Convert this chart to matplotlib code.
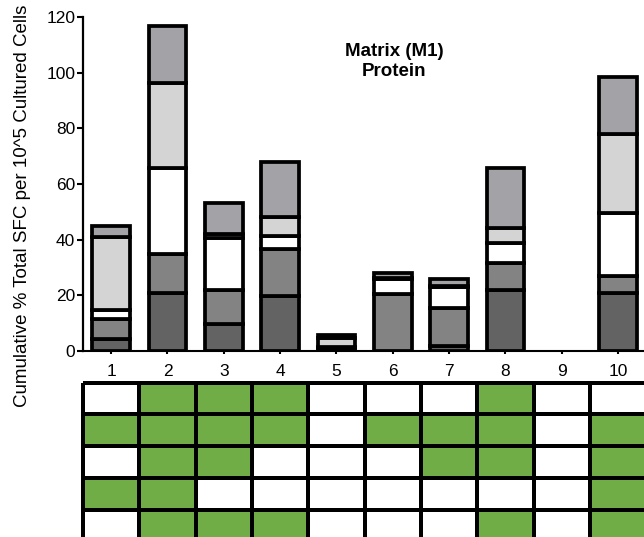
import numpy as np
import matplotlib
matplotlib.use("Agg")
import matplotlib.pyplot as plt
from matplotlib.colors import ListedColormap

plt.rcParams['font.family'] = ['Liberation Sans', 'DejaVu Sans']

# donors 1..10, stacked segments bottom -> top
donors = [1, 2, 3, 4, 5, 6, 7, 8, 9, 10]
dark = [4.2, 20.7, 9.8, 19.8, 1.0, 0.0, 1.8, 21.9, 0.0, 20.7]
mid = [7.2, 14.2, 12.2, 17.0, 0.6, 20.4, 13.5, 9.8, 0.0, 6.2]
white = [3.3, 31.0, 18.5, 4.5, 0.0, 5.5, 7.8, 7.2, 0.0, 22.8]
light = [26.1, 30.5, 1.5, 7.0, 3.0, 0.5, 0.3, 5.4, 0.0, 28.2]
top = [4.2, 20.4, 11.2, 19.5, 1.2, 1.5, 2.4, 21.6, 0.0, 20.4]
seg_colors = ['#636363', '#838383', '#ffffff', '#d4d4d4', '#a2a2a7']

# presence grid under the bars (1 = green)
grid = [
    [0, 1, 1, 1, 0, 0, 0, 1, 0, 0],
    [1, 1, 1, 1, 0, 1, 1, 1, 0, 1],
    [0, 1, 1, 0, 0, 0, 1, 1, 0, 1],
    [1, 1, 0, 0, 0, 0, 0, 0, 0, 1],
    [0, 1, 1, 1, 0, 0, 0, 1, 0, 1],
]

W, H = 644, 537
fig = plt.figure(figsize=(W / 100, H / 100), dpi=100)

# bar axes (pixel based placement)
x0, x1 = 83, 646.3
ax = fig.add_axes([x0 / W, (H - 351) / H, (x1 - x0) / W, 334 / H])
bottom = np.zeros(len(donors))
for vals, c in zip([dark, mid, white, light, top], seg_colors):
    # empty segments get no outline
    edges = ['black' if v > 0 else 'none' for v in vals]
    ax.bar(donors, vals, width=0.67, bottom=bottom, color=c,
           edgecolor=edges, linewidth=2.7, zorder=3)
    bottom += np.array(vals)

ax.set_xlim(0.5, 10.5)
ax.set_ylim(0, 120)
ax.set_yticks([0, 20, 40, 60, 80, 100, 120])
ax.set_xticks(donors)
for s in ['top', 'right']:
    ax.spines[s].set_visible(False)
ax.spines['left'].set_linewidth(1.6)
ax.spines['bottom'].set_linewidth(1.5)
ax.tick_params(axis='y', length=4, width=1.5, pad=1.5, labelsize=12.5)
ax.tick_params(axis='x', length=2.5, width=1.5, pad=6.5, labelsize=12.5)

ax.text(0.552, 0.866, 'Matrix (M1)\nProtein', transform=ax.transAxes,
        ha='center', va='center', fontsize=13.5, fontweight='bold',
        linespacing=1.2)

fig.text(23 / W, 1 - 206 / H, 'Cumulative % Total SFC per 10^5 Cultured Cells',
         rotation=90, ha='center', va='center', fontsize=13.5)

# grid axes below
row_h = 31.7
tab = fig.add_axes([x0 / W, (H - 382.7 - 5 * row_h) / H, (x1 - x0) / W, 5 * row_h / H])
cmap = ListedColormap(['white', '#70ad47'])
mesh = tab.pcolormesh(np.arange(0.5, 11.5), np.arange(0, 6), np.array(grid),
                      cmap=cmap, vmin=0, vmax=1, edgecolors='black', linewidth=1.7)
mesh.set_clip_on(False)
tab.set_xlim(0.5, 10.5)
tab.set_ylim(5, 0)
tab.axis('off')

fig.savefig('out.png', dpi=100)
